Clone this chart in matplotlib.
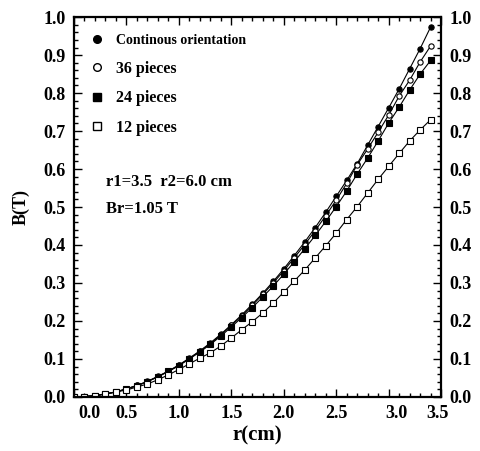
import numpy as np
import matplotlib
matplotlib.use("Agg")
import matplotlib.pyplot as plt
from matplotlib.lines import Line2D
from matplotlib.transforms import ScaledTranslation

plt.rcParams['font.family'] = ['Liberation Serif', 'DejaVu Serif']
plt.rcParams['font.weight'] = 'bold'
plt.rcParams['axes.labelweight'] = 'bold'

# radius (cm)
r = [0.0, 0.1, 0.2, 0.3, 0.4, 0.5, 0.6, 0.7, 0.8, 0.9,
     1.0, 1.1, 1.2, 1.3, 1.4, 1.5, 1.6, 1.7, 1.8, 1.9,
     2.0, 2.1, 2.2, 2.3, 2.4, 2.5, 2.6, 2.7, 2.8, 2.9,
     3.0, 3.1, 3.2, 3.3, 3.4]

# B (T)
b_cont = [0.000, 0.001, 0.003, 0.008, 0.013, 0.021, 0.030, 0.041, 0.054, 0.068,
          0.084, 0.102, 0.121, 0.142, 0.165, 0.190, 0.216, 0.244, 0.273, 0.304,
          0.337, 0.372, 0.408, 0.446, 0.486, 0.528, 0.570, 0.614, 0.663, 0.712,
          0.761, 0.811, 0.864, 0.917, 0.974]
b_36 = [0.000, 0.001, 0.003, 0.008, 0.013, 0.021, 0.030, 0.040, 0.053, 0.067,
        0.083, 0.101, 0.120, 0.140, 0.163, 0.188, 0.213, 0.241, 0.270, 0.300,
        0.332, 0.366, 0.401, 0.438, 0.477, 0.518, 0.562, 0.611, 0.653, 0.697,
        0.742, 0.792, 0.834, 0.882, 0.924]
b_24 = [0.000, 0.001, 0.003, 0.008, 0.013, 0.021, 0.029, 0.040, 0.053, 0.067,
        0.082, 0.100, 0.118, 0.138, 0.160, 0.184, 0.209, 0.235, 0.263, 0.292,
        0.323, 0.356, 0.390, 0.425, 0.462, 0.501, 0.542, 0.587, 0.629, 0.674,
        0.721, 0.763, 0.808, 0.850, 0.886]
b_12 = [0.000, 0.001, 0.003, 0.007, 0.013, 0.018, 0.026, 0.034, 0.045, 0.058,
        0.072, 0.087, 0.102, 0.116, 0.134, 0.155, 0.177, 0.198, 0.221, 0.247,
        0.276, 0.305, 0.334, 0.366, 0.398, 0.431, 0.467, 0.501, 0.537, 0.573,
        0.607, 0.641, 0.674, 0.703, 0.730]

labels = ['Continous orientation', '36 pieces', '24 pieces', '12 pieces']
xticks = [0.0, 0.5, 1.0, 1.5, 2.0, 2.5, 3.0, 3.5]
yticks = [0.0, 0.1, 0.2, 0.3, 0.4, 0.5, 0.6, 0.7, 0.8, 0.9, 1.0]

fig = plt.figure(figsize=(4.8, 4.51), dpi=100)
ax = fig.add_axes([0.154, 0.120, 0.765, 0.842])

styles = [dict(marker='o', mfc='black'),
          dict(marker='o', mfc='white'),
          dict(marker='s', mfc='black'),
          dict(marker='s', mfc='white')]
for b, st in zip([b_cont, b_36, b_24, b_12], styles):
    ax.plot(r, b, color='black', lw=0.8, ms=3.8, mec='black', mew=0.8, **st)

ax.set_xlim(0, 3.5)
ax.set_ylim(0, 1.0)
ax.set_xticks(xticks)
ax.set_xticklabels(['%.1f' % t for t in xticks])
ax.set_xticks(np.arange(0, 3.51, 0.1), minor=True)
ax.set_yticks(yticks)
ax.set_yticklabels(['%.1f' % t for t in yticks])
ax.set_yticks(np.arange(0, 1.001, 0.02), minor=True)

ax.tick_params(which='both', direction='in', top=True, right=True,
               labelright=True, width=1.0)
ax.tick_params(which='major', length=6, labelsize=13, pad=6)
ax.tick_params(which='minor', length=3)
for s in ax.spines.values():
    s.set_linewidth(1.6)

# shifted x tick labels as in the original
shifts = {0: 16, 6: 8, 7: -4}
for i, lab in enumerate(ax.get_xticklabels()):
    if i in shifts:
        lab.set_transform(lab.get_transform() +
                          ScaledTranslation(shifts[i] / 100, 0, fig.dpi_scale_trans))

ax.set_xlabel('r(cm)', fontsize=15, labelpad=2)
ax.set_ylabel('B(T)', fontsize=13, labelpad=10)

handles = [Line2D([], [], ls='none', color='black', ms=5.5, mec='black', **st)
           for st in styles]
leg = ax.legend(handles, labels, loc='upper left', bbox_to_anchor=(0.02, 0.975),
                frameon=False, fontsize=11.5, labelspacing=0.85,
                handletextpad=0.6, handlelength=1.2, borderaxespad=0)
leg.get_texts()[0].set_fontsize(10)

ax.text(0.088, 0.565, 'r1=3.5  r2=6.0 cm', transform=ax.transAxes,
        fontsize=12, va='center')
ax.text(0.088, 0.495, 'Br=1.05 T', transform=ax.transAxes,
        fontsize=12, va='center')

fig.savefig('out.png', dpi=100)
